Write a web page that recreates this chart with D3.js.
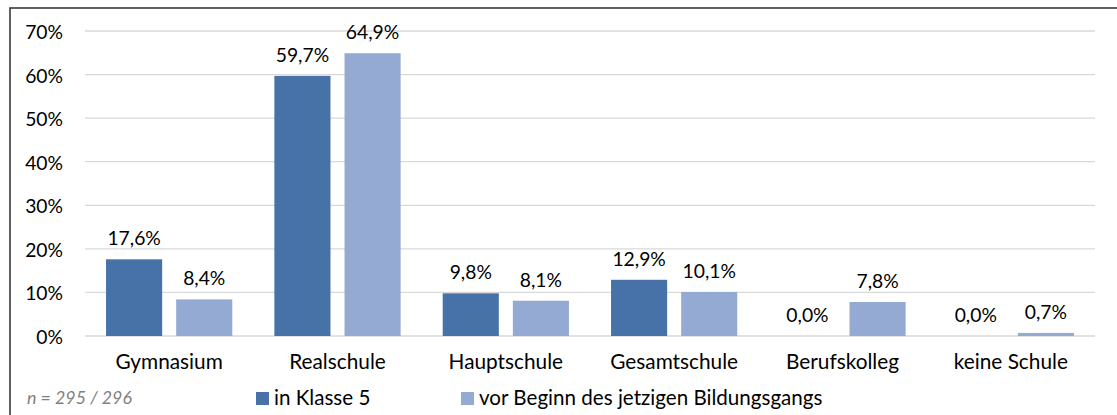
<!DOCTYPE html>
<html>
<head>
<meta charset="utf-8">
<script src="https://cdn.jsdelivr.net/npm/d3@7"></script>
<style>
  html, body { margin: 0; padding: 0; background: #fff; }
  svg { display: block; }
</style>
</head>
<body>
<svg id="chart" width="1117" height="415"></svg>
<script>
const categories = ["Gymnasium", "Realschule", "Hauptschule", "Gesamtschule", "Berufskolleg", "keine Schule"];
const seriesNames = ["in Klasse 5", "vor Beginn des jetzigen Bildungsgangs"];
const klasse5 = [17.6, 59.7, 9.8, 12.9, 0.0, 0.0];
const vorBeginn = [8.4, 64.9, 8.1, 10.1, 7.8, 0.7];
const yTicks = [0, 10, 20, 30, 40, 50, 60, 70];
const noteText = "n = 295 / 296";

const colors = ["#4672a7", "#95aad2"];
const font = "Lato, 'Noto Sans', sans-serif";

const svg = d3.select("#chart");
const W = 1117, H = 415;

// frame
svg.append("rect")
  .attr("x", 10).attr("y", 8)
  .attr("width", W + 20).attr("height", H + 20)
  .attr("fill", "none").attr("stroke", "#3a3a3a").attr("stroke-width", 1.6);

const plot = { left: 85, right: 1095, top: 31, bottom: 336 };

const y = d3.scaleLinear().domain([0, 70]).range([plot.bottom, plot.top]);
const x0 = d3.scaleBand().domain(categories).range([plot.left, plot.right]).padding(0);
const x1 = d3.scaleBand().domain(seriesNames).range([0, x0.bandwidth()])
  .paddingInner(0.2).paddingOuter(0.3);

// gridlines
svg.append("g")
  .selectAll("line").data(yTicks).join("line")
  .attr("x1", plot.left).attr("x2", plot.right)
  .attr("y1", d => y(d)).attr("y2", d => y(d))
  .attr("stroke", "#d9d9d9").attr("stroke-width", 1.3);

// y axis labels
const yAxis = d3.axisLeft(y).tickValues(yTicks).tickSize(0).tickPadding(0)
  .tickFormat(d => d + "%");
const yg = svg.append("g").attr("transform", `translate(63,0)`).call(yAxis);
yg.select(".domain").remove();
yg.selectAll("text")
  .attr("font-family", font).attr("font-size", 19.3).attr("fill", "#000")
  .attr("dy", null).attr("dominant-baseline", "central");

// x axis labels
const xAxis = d3.axisBottom(x0).tickSize(0).tickPadding(0);
const xg = svg.append("g").attr("transform", `translate(0,${plot.bottom})`).call(xAxis);
xg.select(".domain").remove();
xg.selectAll("text")
  .attr("font-family", font).attr("font-size", 20.8).attr("fill", "#000")
  .attr("dy", null).attr("y", 33);

const fmt = v => d3.format(".1f")(v).replace(".", ",") + "%";
const seriesData = [klasse5, vorBeginn];

const groups = svg.append("g").selectAll("g").data(categories).join("g")
  .attr("transform", d => `translate(${x0(d)},0)`);

seriesNames.forEach((s, si) => {
  groups.append("rect")
    .attr("x", x1(s))
    .attr("width", x1.bandwidth())
    .attr("y", (d, i) => y(seriesData[si][i]))
    .attr("height", (d, i) => y(0) - y(seriesData[si][i]))
    .attr("fill", colors[si]);
  groups.append("text")
    .attr("x", x1(s) + x1.bandwidth() / 2)
    .attr("y", (d, i) => y(seriesData[si][i]) - 14)
    .attr("text-anchor", "middle")
    .attr("font-family", font).attr("font-size", 19.3).attr("fill", "#000")
    .text((d, i) => fmt(seriesData[si][i]));
});

// note
svg.append("text")
  .attr("x", 27).attr("y", 404)
  .attr("font-family", font).attr("font-size", 17.8).attr("font-style", "italic")
  .attr("fill", "#7f7f7f")
  .text(noteText);

// legend
const legendX = [256, 461];
const lg = svg.append("g").selectAll("g").data(seriesNames).join("g")
  .attr("transform", (d, i) => `translate(${legendX[i]},392)`);
lg.append("rect").attr("width", 13).attr("height", 13).attr("fill", (d, i) => colors[i]);
lg.append("text").attr("x", 18).attr("y", 12.5)
  .attr("font-family", font).attr("font-size", 20.6).attr("fill", "#000")
  .text(d => d);
</script>
</body>
</html>
